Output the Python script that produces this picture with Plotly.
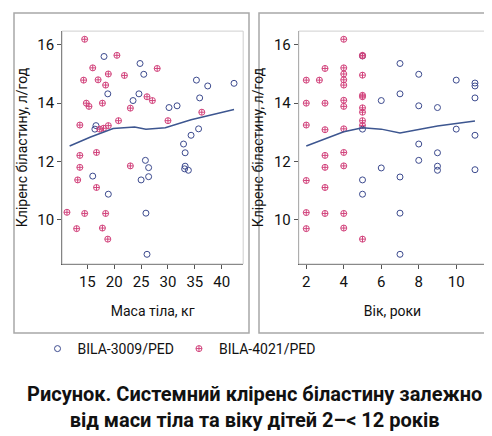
import plotly.graph_objects as go

# Left panel: body mass (kg) vs clearance (L/h)
mass_3009 = [18.1, 24.8, 25.5, 18.8, 24.6, 23.5, 31.7, 30.2, 35.3, 37.4, 35.9, 42.3, 16.6, 16.4, 35.7,
             34.3, 32.9, 33.2, 33.2, 33.1, 33.8, 25.8, 26.4, 26.4, 25.0, 16.0, 18.9, 25.9, 26.1]
cl_m_3009 = [15.60, 15.36, 14.99, 14.32, 14.32, 14.09, 13.91, 13.85, 14.79, 14.59, 14.18, 14.68, 13.23, 13.11, 13.12,
             12.90, 12.60, 12.30, 11.84, 11.75, 11.70, 12.04, 11.79, 11.48, 11.37, 11.50, 10.88, 10.23, 8.82]
mass_4021 = [14.5, 16.0, 14.3, 17.0, 18.9, 18.4, 14.8, 15.3, 17.8, 20.5, 21.9, 28.0, 26.1, 27.1, 23.0, 20.8, 30.0,
             36.3, 13.6, 18.9, 17.3, 18.0, 13.6, 16.7, 13.6, 13.2, 16.7, 23.0, 11.2, 14.5, 18.4, 13.0, 17.8, 18.8]
cl_m_4021 = [16.19, 15.21, 14.79, 14.80, 15.00, 14.62, 14.00, 13.89, 14.00, 15.64, 14.95, 15.19, 14.22, 14.09, 13.83,
             13.40, 13.40, 13.69, 13.25, 13.23, 13.11, 13.14, 12.21, 12.31, 11.80, 11.37, 11.11, 11.85, 10.26, 10.22,
             10.22, 9.70, 9.72, 9.34]
trend_mass = [11.7, 15.6, 19.8, 23.8, 25.9, 29.5, 34.3, 42.3]
trend_mass_cl = [12.53, 12.84, 13.13, 13.18, 13.11, 13.16, 13.43, 13.78]

# Right panel: age (years) vs clearance
age_3009 = [5, 5, 5, 5, 6, 6, 7, 7, 7, 7, 7, 8, 8, 8, 8, 9, 9, 9, 9, 10, 10, 11, 11, 11, 11, 11]
cl_a_3009 = [15.62, 13.11, 11.37, 10.88, 14.09, 11.78, 15.36, 14.32, 11.47, 10.23, 8.82, 14.99, 13.91, 12.60, 12.04,
             13.85, 12.30, 11.84, 11.70, 14.79, 13.11, 14.69, 14.59, 14.18, 12.90, 11.72]
age_4021 = [2, 2, 2, 2, 2, 2, 2.7, 3, 3, 3, 3, 3, 3, 3,
            4, 4, 4, 4, 4, 4, 4, 4, 4, 4, 4, 4,
            5, 5, 5, 5, 5, 5, 5, 5, 5, 5]
cl_a_4021 = [14.79, 14.00, 13.25, 11.35, 10.25, 9.70, 14.79, 15.19, 14.00, 13.09, 12.21, 11.80, 11.11, 10.22,
             16.19, 15.21, 15.00, 14.80, 14.62, 14.10, 13.89, 13.12, 12.31, 11.85, 10.22, 9.72,
             15.64, 15.62, 14.96, 14.27, 14.22, 13.84, 13.69, 13.40, 13.24, 9.34]
trend_age = [2, 4, 5, 6, 7, 8, 9, 11]
trend_age_cl = [12.53, 13.02, 13.16, 13.11, 12.98, 13.11, 13.22, 13.39]

BLUE = "#3c4a8e"
PINK = "#d2437c"
LINE = "#3d5690"
FONT = "Liberation Sans Narrow, Roboto, Liberation Sans, Arial"

fig = go.Figure()
m3009 = dict(symbol="circle-open", size=6, color=BLUE, line=dict(width=1))
m4021 = dict(symbol="circle-cross-open", size=6, color=PINK, line=dict(width=1))

fig.add_trace(go.Scatter(x=mass_3009, y=cl_m_3009, mode="markers", marker=m3009, name="BILA-3009/PED"))
fig.add_trace(go.Scatter(x=mass_4021, y=cl_m_4021, mode="markers", marker=m4021, name="BILA-4021/PED"))
fig.add_trace(go.Scatter(x=trend_mass, y=trend_mass_cl, mode="lines", line=dict(color=LINE, width=1.5), showlegend=False))
fig.add_trace(go.Scatter(x=age_3009, y=cl_a_3009, mode="markers", marker=m3009, showlegend=False, xaxis="x2", yaxis="y2"))
fig.add_trace(go.Scatter(x=age_4021, y=cl_a_4021, mode="markers", marker=m4021, showlegend=False, xaxis="x2", yaxis="y2"))
fig.add_trace(go.Scatter(x=trend_age, y=trend_age_cl, mode="lines", line=dict(color=LINE, width=1.5), showlegend=False,
                         xaxis="x2", yaxis="y2"))

ax = dict(showline=True, linecolor="#555", linewidth=1, mirror=False, ticks="outside", ticklen=4, tickcolor="#555",
          showgrid=False, zeroline=False, tickfont=dict(size=15, color="#111"))
ytitle = dict(text="Кліренс біластину, л/год", font=dict(size=14, color="#111"), standoff=6)

fig.update_layout(
    width=492, height=436, margin=dict(l=0, r=0, t=0, b=0),
    paper_bgcolor="white", plot_bgcolor="white",
    font=dict(family=FONT, color="#111"),
    xaxis=dict(ax, domain=[0.110, 0.478], range=[10.3, 44], tickvals=[15, 20, 25, 30, 35, 40],
               title=dict(text="Маса тіла, кг", font=dict(size=14), standoff=16), anchor="y"),
    yaxis=dict(ax, domain=[0.413, 0.947], range=[8.49, 16.47], tickvals=[10, 12, 14, 16], title=ytitle, anchor="x"),
    xaxis2=dict(ax, domain=[0.591, 0.972], range=[1.6, 11.6], tickvals=[2, 4, 6, 8, 10],
                title=dict(text="Вік, роки", font=dict(size=14), standoff=16), anchor="y2"),
    yaxis2=dict(ax, domain=[0.413, 0.947], range=[8.49, 16.47], tickvals=[10, 12, 14, 16], title=ytitle, anchor="x2"),
    legend=dict(orientation="h", x=0.06, y=1 - 341 / 436, xanchor="left", yanchor="middle",
                font=dict(size=14), itemwidth=30, bgcolor="rgba(0,0,0,0)"),
    showlegend=True,
)

# outer frames and light plot borders
for x0, x1 in [(6, 241), (251, 487)]:
    fig.add_shape(type="rect", xref="paper", yref="paper", x0=x0 / 492, x1=x1 / 492, y0=1 - 325 / 436, y1=1 - 5 / 436,
                  line=dict(color="#a8a8a8", width=1.5))
for xr, yr in [("x domain", "y domain"), ("x2 domain", "y2 domain")]:
    fig.add_shape(type="rect", xref=xr, yref=yr, x0=0, x1=1, y0=0, y1=1, line=dict(color="#cfcfcf", width=1))

fig.add_annotation(text="<b>Рисунок. Системний кліренс біластину залежно<br>від маси тіла та віку дітей 2–< 12 років</b>",
                   xref="paper", yref="paper", x=0.5, y=1 - 399 / 436, yanchor="middle", showarrow=False,
                   font=dict(size=20, family=FONT, color="#111"), align="center")

fig.write_html("out.html")
